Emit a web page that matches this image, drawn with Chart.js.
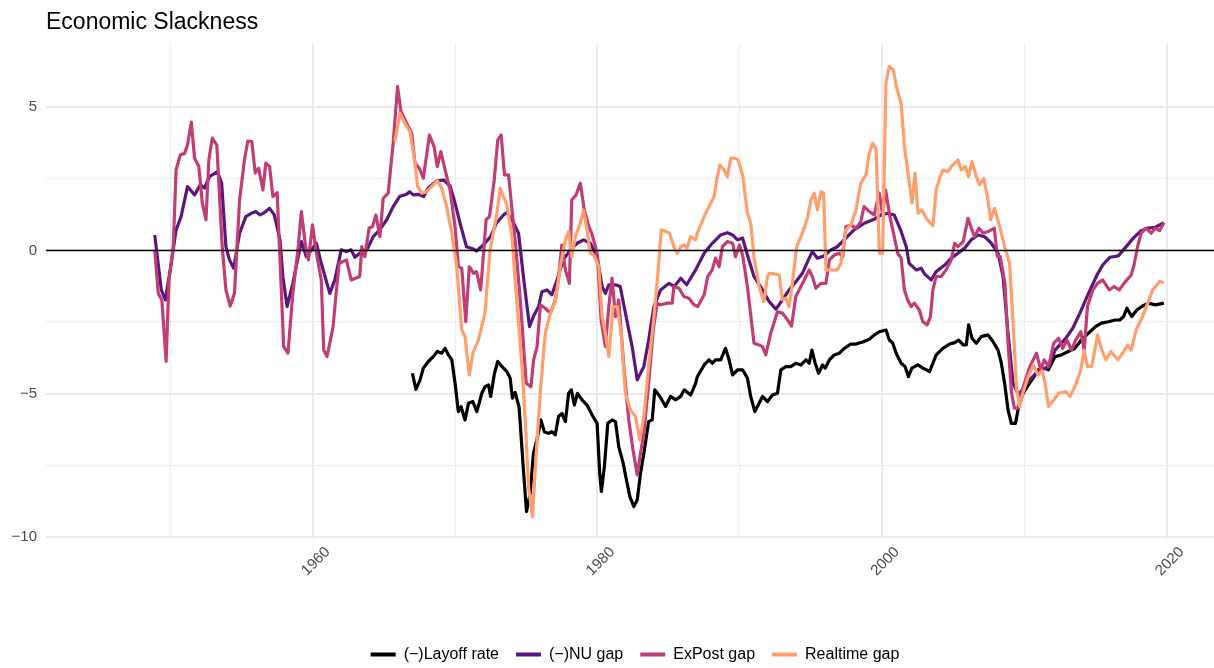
<!DOCTYPE html>
<html>
<head>
<meta charset="utf-8">
<script src="https://cdn.jsdelivr.net/npm/chart.js@4.4.1/dist/chart.umd.min.js"></script>
<style>
  html, body { margin: 0; padding: 0; background: #ffffff; }
  #wrap { width: 1214px; height: 668px; }
</style>
</head>
<body>
<div id="wrap"><canvas id="c" width="1214" height="668"></canvas></div>
<script>
// ---------- data ----------
const seriesNames = ['(\u2212)Layoff rate', '(\u2212)NU gap', 'ExPost gap', 'Realtime gap'];

const layoffYears = [1967.0,1967.25,1967.54,1967.77,1968.12,1968.47,1968.75,1969.06,1969.3,1969.53,1969.77,1970.0,1970.23,1970.42,1970.7,1970.94,1971.25,1971.53,1971.88,1972.1,1972.35,1972.5,1972.77,1973.0,1973.3,1973.64,1973.87,1974.03,1974.22,1974.5,1974.77,1975.02,1975.28,1975.51,1975.8,1976.03,1976.27,1976.57,1976.8,1977.04,1977.27,1977.51,1977.75,1977.98,1978.17,1978.38,1978.6,1978.92,1979.27,1979.63,1979.98,1980.16,1980.28,1980.49,1980.73,1981.03,1981.27,1981.5,1981.81,1982.04,1982.28,1982.56,1982.8,1983.03,1983.3,1983.6,1983.85,1984.03,1984.39,1984.79,1985.14,1985.49,1985.85,1986.1,1986.55,1986.9,1987.02,1987.5,1987.84,1988.07,1988.3,1988.66,1989.0,1989.25,1989.5,1989.84,1990.2,1990.54,1990.77,1991.06,1991.36,1991.6,1991.95,1992.3,1992.65,1992.89,1993.24,1993.59,1993.94,1994.3,1994.65,1994.88,1995.07,1995.3,1995.54,1995.82,1996.01,1996.3,1996.64,1997.0,1997.35,1997.8,1998.17,1998.64,1999.1,1999.46,1999.8,2000.28,2000.51,2000.75,2000.99,2001.34,2001.62,2001.85,2002.09,2002.52,2002.87,2003.34,2003.57,2003.8,2004.27,2004.74,2005.1,2005.38,2005.7,2005.92,2006.08,2006.32,2006.62,2006.97,2007.44,2007.8,2008.15,2008.38,2008.61,2008.85,2009.08,2009.37,2009.6,2009.91,2010.27,2010.62,2010.97,2011.44,2011.68,2012.15,2012.6,2013.08,2013.55,2014.0,2014.5,2015.0,2015.4,2015.9,2016.37,2016.7,2016.97,2017.2,2017.54,2017.9,2018.24,2018.7,2019.2,2019.8];
const layoffVals = [-4.29,-4.85,-4.52,-4.11,-3.88,-3.71,-3.53,-3.59,-3.42,-3.65,-3.82,-4.64,-5.63,-5.46,-5.92,-5.34,-5.28,-5.63,-4.99,-4.76,-4.7,-5.1,-4.29,-3.88,-4.06,-4.23,-4.46,-5.16,-4.96,-5.48,-7.45,-9.12,-8.48,-7.08,-6.5,-5.92,-6.33,-6.39,-6.33,-6.44,-5.8,-5.69,-5.98,-4.99,-4.87,-5.4,-4.99,-5.22,-5.4,-5.75,-6.04,-7.78,-8.42,-7.55,-6.04,-5.92,-5.98,-6.85,-7.43,-8.02,-8.6,-8.95,-8.71,-7.78,-6.97,-5.98,-5.92,-4.87,-5.1,-5.45,-5.1,-5.22,-5.1,-4.87,-5.05,-4.64,-4.41,-4.0,-3.82,-3.94,-3.82,-3.82,-3.42,-3.82,-4.35,-4.17,-4.17,-4.46,-5.1,-5.63,-5.34,-5.1,-5.28,-5.05,-4.99,-4.17,-4.06,-4.06,-3.94,-4.0,-3.82,-3.94,-3.48,-3.94,-4.29,-4.0,-4.11,-3.82,-3.65,-3.59,-3.42,-3.27,-3.27,-3.2,-3.1,-2.95,-2.84,-2.78,-3.13,-3.24,-3.59,-3.94,-4.06,-4.41,-4.11,-4.0,-4.11,-4.23,-3.94,-3.65,-3.42,-3.27,-3.22,-3.13,-3.3,-3.3,-2.6,-3.07,-3.24,-3.01,-2.95,-3.19,-3.48,-3.94,-4.64,-5.57,-6.04,-6.04,-5.45,-4.99,-4.7,-4.45,-4.17,-4.12,-4.17,-3.71,-3.65,-3.53,-3.42,-3.13,-2.89,-2.66,-2.54,-2.49,-2.43,-2.43,-2.31,-2.02,-2.31,-2.08,-1.96,-1.84,-1.9,-1.84];

const nuYears = [1948.9,1949.36,1949.65,1950.06,1950.4,1950.75,1951.2,1951.7,1952.1,1952.4,1952.75,1953.3,1953.6,1953.9,1954.15,1954.45,1954.86,1955.3,1955.7,1956.0,1956.3,1956.6,1956.97,1957.3,1957.7,1957.9,1958.2,1958.6,1959.2,1959.55,1960.26,1960.6,1961.2,1961.55,1962.0,1962.37,1962.7,1962.96,1963.3,1963.8,1964.25,1964.7,1965.2,1965.65,1966.1,1966.6,1966.8,1967.07,1967.4,1967.8,1968.1,1968.7,1969.2,1969.65,1970.0,1970.35,1970.8,1971.3,1971.5,1971.98,1972.5,1972.9,1973.4,1973.64,1974.0,1974.46,1974.8,1975.23,1975.5,1975.87,1976.1,1976.46,1976.8,1977.16,1977.6,1978.1,1978.57,1979.03,1979.5,1979.98,1980.33,1980.56,1980.8,1981.27,1981.6,1981.97,1982.44,1982.8,1983.26,1983.6,1983.97,1984.44,1985.03,1985.4,1985.86,1986.27,1986.9,1987.5,1988.07,1988.66,1989.13,1989.5,1989.84,1990.2,1990.54,1991.0,1991.6,1992.07,1992.54,1993.0,1993.47,1993.94,1994.4,1994.88,1995.1,1995.46,1995.93,1996.4,1996.86,1997.33,1998.03,1998.75,1999.45,1999.93,2000.4,2000.85,2001.3,2001.7,2001.9,2002.4,2002.75,2002.98,2003.45,2003.8,2004.4,2004.86,2005.33,2005.8,2006.27,2006.74,2007.2,2007.68,2008.15,2008.5,2008.85,2009.2,2009.6,2010.0,2010.5,2011.0,2011.7,2012.15,2012.9,2013.4,2013.9,2014.5,2015.1,2015.5,2016.0,2016.6,2017.06,2017.65,2018.2,2018.7,2019.2,2019.8];
const nuVals = [0.54,-1.38,-1.73,-0.44,0.72,1.18,2.23,1.94,2.29,2.18,2.58,2.75,2.35,0.13,-0.33,-0.62,0.6,1.18,1.3,1.36,1.24,1.32,1.47,1.24,0.37,-0.91,-1.96,-1.15,0.31,-0.22,0.25,-0.45,-1.5,-1.03,0.02,-0.04,0.02,-0.24,-0.1,0.02,0.48,0.72,1.07,1.53,1.88,1.96,2.05,1.94,1.96,1.88,2.17,2.43,2.46,2.25,1.65,0.95,0.13,0.05,-0.02,0.19,0.48,0.95,1.24,1.32,1.07,0.6,-0.91,-2.66,-2.31,-1.96,-1.44,-1.38,-1.55,-1.03,-0.33,0.02,0.25,0.37,0.25,-0.22,-1.26,-1.5,-1.2,-1.2,-1.26,-2.19,-3.36,-4.52,-4.06,-3.13,-1.96,-1.38,-1.15,-1.26,-0.97,-1.2,-0.68,-0.1,0.25,0.54,0.62,0.54,0.37,0.43,-0.16,-0.91,-1.38,-1.79,-2.05,-1.73,-1.38,-1.09,-0.8,-0.27,-0.04,-0.27,-0.19,0.02,0.13,0.37,0.72,0.95,1.09,1.24,1.3,1.24,0.72,0.13,-0.45,-0.68,-0.62,-0.82,-1.03,-0.74,-0.51,-0.27,-0.1,0.08,0.37,0.54,0.48,0.25,-0.1,-0.91,-2.89,-4.64,-5.05,-4.76,-4.45,-4.2,-4.06,-3.48,-3.07,-2.72,-2.19,-1.5,-0.86,-0.51,-0.24,-0.19,0.08,0.43,0.69,0.78,0.81,0.97];

const expostYears = [1948.9,1949.15,1949.4,1949.7,1949.9,1950.2,1950.4,1950.7,1951.0,1951.2,1951.47,1951.7,1952.0,1952.24,1952.5,1952.7,1952.94,1953.26,1953.64,1953.9,1954.2,1954.5,1954.86,1955.2,1955.44,1955.72,1955.96,1956.2,1956.5,1956.7,1956.97,1957.2,1957.5,1957.7,1957.96,1958.26,1958.6,1958.96,1959.2,1959.5,1959.7,1959.98,1960.26,1960.6,1960.77,1961.0,1961.2,1961.43,1961.6,1961.85,1962.13,1962.37,1962.7,1963.3,1963.45,1963.66,1963.96,1964.2,1964.44,1964.72,1964.95,1965.3,1965.65,1965.96,1966.2,1966.48,1966.95,1967.18,1967.49,1967.77,1968.2,1968.52,1968.75,1969.0,1969.3,1969.65,1970.0,1970.23,1970.47,1970.75,1971.0,1971.3,1971.5,1971.8,1972.18,1972.42,1972.75,1973.0,1973.24,1973.47,1973.76,1974.0,1974.22,1974.58,1975.0,1975.33,1975.52,1975.76,1976.0,1976.34,1976.7,1977.04,1977.28,1977.5,1977.75,1978.03,1978.2,1978.5,1978.8,1979.08,1979.4,1979.6,1979.86,1980.0,1980.26,1980.56,1980.8,1981.03,1981.27,1981.5,1981.86,1982.2,1982.5,1982.8,1983.03,1983.26,1983.6,1983.92,1984.2,1984.44,1984.9,1985.26,1985.37,1985.73,1986.08,1986.43,1986.78,1987.05,1987.5,1987.75,1988.07,1988.3,1988.55,1988.78,1989.13,1989.5,1989.7,1989.98,1990.2,1990.54,1991.0,1991.36,1991.6,1991.83,1992.18,1992.65,1993.0,1993.36,1993.64,1993.94,1994.3,1994.65,1994.88,1995.1,1995.35,1995.7,1996.06,1996.3,1996.65,1997.0,1997.23,1997.46,1997.8,1998.17,1998.5,1998.73,1999.1,1999.45,1999.8,2000.03,2000.25,2000.55,2000.85,2001.1,2001.34,2001.57,2001.8,2002.04,2002.27,2002.62,2002.86,2003.17,2003.4,2003.57,2003.8,2004.15,2004.5,2004.86,2005.1,2005.33,2005.7,2006.04,2006.27,2006.5,2006.8,2007.1,2007.46,2007.88,2008.1,2008.3,2008.63,2008.85,2009.1,2009.3,2009.6,2009.92,2010.38,2010.85,2011.15,2011.39,2011.7,2012.06,2012.4,2012.7,2013.0,2013.3,2013.6,2013.96,2014.2,2014.43,2014.8,2015.14,2015.5,2015.96,2016.3,2016.66,2017.0,2017.5,2017.7,2017.95,2018.2,2018.54,2018.9,2019.2,2019.5,2019.8];
const expostVals = [0.0,-1.5,-1.73,-3.88,-1.03,0.13,2.81,3.34,3.39,3.68,4.48,3.22,2.93,1.65,1.07,3.16,3.92,3.68,0.13,-1.38,-1.94,-1.5,1.76,3.16,3.82,3.8,2.7,2.87,2.11,3.05,2.93,1.88,2.02,-0.33,-3.36,-3.59,-1.5,0.02,1.36,0.13,-0.33,0.89,-0.1,-1.03,-3.48,-3.71,-3.24,-2.66,-1.73,-0.45,-0.39,-0.33,-1.03,-0.91,0.13,-0.22,0.78,0.83,1.24,0.48,1.82,2.0,3.74,5.72,4.85,4.56,4.09,3.05,2.87,2.52,4.03,3.63,2.93,3.45,2.81,2.11,0.83,-0.57,-0.62,-2.49,-0.57,-0.8,-0.74,-1.38,1.07,1.18,2.46,3.86,4.03,2.64,2.64,1.41,0.37,-1.73,-4.64,-4.76,-3.82,-3.36,-1.9,-2.02,-2.19,-1.73,-0.91,0.19,-0.68,-1.15,1.76,1.94,2.35,1.41,0.83,0.6,0.13,-0.16,-2.43,-3.36,-1.96,-0.97,-2.31,-1.73,-4.06,-5.92,-6.97,-7.84,-7.08,-6.39,-4.64,-2.78,-1.84,-1.9,-1.84,-1.84,-1.26,-1.32,-1.61,-1.67,-1.9,-1.96,-1.55,-0.91,-0.68,-0.27,-0.57,0.13,0.31,0.25,-0.22,0.19,-0.16,-1.26,-3.24,-3.3,-3.36,-3.65,-2.89,-2.14,-2.19,-2.43,-2.64,-1.61,-1.26,-0.91,-0.68,-0.91,-1.32,-1.15,-1.15,-0.33,-0.16,-0.1,-0.22,0.83,0.89,0.78,1.0,1.53,1.36,1.24,2.0,1.3,2.11,1.18,0.48,-0.1,-0.27,-1.38,-1.73,-1.96,-1.84,-2.08,-2.49,-2.6,-2.31,-1.38,-0.91,-0.91,-0.68,-0.33,0.25,0.13,0.31,1.12,0.78,0.48,0.78,0.6,0.66,0.78,-0.22,-0.22,-1.15,-3.24,-4.99,-5.51,-5.51,-4.76,-4.06,-3.59,-4.17,-3.82,-4.06,-3.24,-3.07,-3.42,-3.13,-3.48,-3.13,-2.84,-3.48,-1.96,-1.38,-1.15,-1.03,-1.38,-1.26,-1.38,-1.15,-0.86,-0.51,0.13,0.6,0.78,0.6,0.78,0.69,0.97];

const realtimeYears = [1965.77,1966.13,1966.48,1966.83,1967.18,1967.37,1967.65,1968.0,1968.47,1968.75,1969.06,1969.41,1969.77,1970.12,1970.47,1970.7,1971.0,1971.25,1971.64,1972.1,1972.46,1972.9,1973.17,1973.4,1973.64,1974.0,1974.22,1974.7,1974.93,1975.17,1975.44,1975.7,1976.0,1976.34,1976.7,1977.04,1977.39,1977.75,1977.98,1978.2,1978.45,1978.8,1979.03,1979.27,1979.5,1979.74,1980.1,1980.33,1980.56,1980.8,1981.1,1981.4,1981.67,1981.97,1982.32,1982.67,1982.98,1983.26,1983.6,1983.97,1984.25,1984.49,1984.8,1985.07,1985.37,1985.61,1985.85,1986.08,1986.3,1986.55,1986.9,1987.02,1987.5,1987.84,1988.2,1988.38,1988.6,1988.9,1989.13,1989.37,1989.67,1989.88,1990.2,1990.54,1990.77,1991.0,1991.36,1991.7,1991.95,1992.07,1992.42,1992.77,1993.0,1993.24,1993.47,1993.7,1994.0,1994.4,1994.75,1995.0,1995.23,1995.46,1995.7,1995.89,1996.06,1996.4,1996.86,1997.1,1997.46,1997.8,1998.17,1998.5,1998.87,1999.1,1999.34,1999.58,1999.81,2000.04,2000.27,2000.5,2000.8,2001.0,2001.34,2001.57,2001.85,2002.1,2002.32,2002.52,2002.8,2003.1,2003.57,2003.8,2004.04,2004.27,2004.63,2004.86,2005.33,2005.56,2005.85,2006.08,2006.32,2006.62,2006.85,2007.14,2007.4,2007.63,2007.91,2008.26,2008.61,2008.96,2009.2,2009.44,2009.67,2009.91,2010.27,2010.62,2010.97,2011.25,2011.45,2011.7,2012.06,2012.4,2012.9,2013.2,2013.6,2013.96,2014.2,2014.43,2014.74,2015.14,2015.44,2015.73,2016.08,2016.56,2016.9,2017.25,2017.5,2017.85,2018.3,2018.66,2019.01,2019.5,2019.8];
const realtimeVals = [3.8,4.79,4.44,4.15,3.05,2.23,2.0,2.05,2.29,2.44,2.17,1.53,0.6,-0.57,-2.78,-3.01,-4.35,-3.59,-3.13,-2.19,0.02,1.18,2.17,1.88,1.6,0.48,-1.03,-4.06,-5.92,-8.3,-9.3,-7.08,-4.87,-2.89,-2.19,-1.79,-0.57,0.37,0.66,-0.22,0.48,0.95,1.41,0.72,-0.1,-0.16,-0.57,-2.31,-2.89,-3.71,-1.96,-1.96,-2.89,-4.99,-5.57,-5.8,-6.62,-5.8,-4.06,-2.31,-0.8,0.72,0.66,0.6,0.13,-0.1,0.13,0.19,0.08,0.48,0.37,0.6,1.18,1.53,1.88,2.46,2.99,2.81,2.58,3.22,3.22,3.16,2.64,1.3,0.95,-0.22,-1.26,-1.79,-0.91,-0.8,-0.82,-0.86,-1.73,-1.67,-1.96,-1.15,0.13,0.6,1.12,1.76,2.0,1.41,2.05,2.0,-0.68,-0.68,-0.68,-0.45,0.72,0.89,1.41,2.35,2.65,3.39,3.74,3.54,-0.1,-0.1,5.84,6.42,6.3,5.72,5.14,3.63,2.58,1.65,2.7,1.3,1.41,1.12,0.86,2.11,2.52,2.81,2.75,2.93,3.16,2.81,2.93,2.58,3.1,2.58,2.29,2.52,1.88,1.07,1.47,0.83,0.13,-0.45,-2.5,-4.8,-5.45,-4.95,-4.4,-4.0,-4.35,-4.2,-4.64,-5.45,-5.22,-4.99,-4.93,-5.1,-4.7,-4.17,-3.48,-4.06,-4.04,-2.95,-3.48,-3.82,-3.53,-3.82,-3.59,-3.3,-3.48,-2.78,-2.31,-1.84,-1.38,-1.09,-1.12];

const xTickValues = [1950, 1960, 1970, 1980, 1990, 2000, 2010, 2020];
const xTickLabels = ['', '1960', '', '1980', '', '2000', '', '2020'];
const yTickValues = [-10, -7.5, -5, -2.5, 0, 2.5, 5];
const yTickLabels = ['\u221210', '', '\u22125', '', '0', '', '5'];

const seriesColors = ['#000000', '#5A167E', '#C13D75', '#FE9F6D'];

// ---------- chart ----------
const FONT = "'Liberation Sans', Arial, Helvetica, sans-serif";
const X_MIN = 1941.26, X_MAX = 2023.32;
const Y_MIN = -10.09, Y_MAX = 7.21;
const LEGEND_SHIFT_Y = 4.5;
const LEGEND_SHIFT_X = 28;

const toPoints = (xs, ys) => xs.map((x, i) => ({ x: x, y: ys[i] }));

const seriesData = [
  toPoints(layoffYears, layoffVals),
  toPoints(nuYears, nuVals),
  toPoints(expostYears, expostVals),
  toPoints(realtimeYears, realtimeVals)
];

const datasets = seriesNames.map((name, i) => ({
  label: name,
  data: seriesData[i],
  borderColor: seriesColors[i],
  backgroundColor: seriesColors[i],
  borderWidth: 3.2,
  order: 4 - i
}));
datasets.push({
  label: '__zero',
  data: [{ x: X_MIN, y: 0 }, { x: X_MAX, y: 0 }],
  borderColor: '#000000',
  backgroundColor: '#000000',
  borderWidth: 1.5,
  order: 0
});

const legendShift = {
  id: 'legendShift',
  afterLayout(chart) {
    const lg = chart.legend;
    if (lg) {
      lg.top += LEGEND_SHIFT_Y;
      lg.bottom += LEGEND_SHIFT_Y;
      lg.left += LEGEND_SHIFT_X;
      lg.right += LEGEND_SHIFT_X;
    }
  }
};

new Chart(document.getElementById('c'), {
  type: 'line',
  data: { datasets: datasets },
  options: {
    responsive: false,
    animation: false,
    devicePixelRatio: 1,
    layout: { padding: { left: 0, right: 0, top: 0, bottom: 0 } },
    elements: {
      point: { radius: 0, hoverRadius: 0 },
      line: { tension: 0, borderJoinStyle: 'round', borderCapStyle: 'butt', fill: false }
    },
    scales: {
      x: {
        type: 'linear',
        min: X_MIN,
        max: X_MAX,
        afterBuildTicks: (s) => { s.ticks = xTickValues.map(v => ({ value: v })); },
        afterFit: (s) => { s.height = 85.7; },
        border: { display: false },
        grid: {
          color: '#EBEBEB',
          lineWidth: (c) => (c.tick && xTickLabels[xTickValues.indexOf(c.tick.value)] !== '' ? 2 : 1),
          drawTicks: false
        },
        ticks: {
          autoSkip: false,
          minRotation: 45,
          maxRotation: 45,
          labelOffset: 15,
          padding: 4,
          color: '#4D4D4D',
          font: { family: FONT, size: 15 },
          callback: (v) => { const k = xTickValues.indexOf(v); return k >= 0 ? xTickLabels[k] : ''; }
        }
      },
      y: {
        type: 'linear',
        min: Y_MIN,
        max: Y_MAX,
        afterBuildTicks: (s) => { s.ticks = yTickValues.map(v => ({ value: v })); },
        afterFit: (s) => { s.width = 46; },
        border: { display: false },
        grid: {
          color: '#EBEBEB',
          lineWidth: (c) => (c.tick && yTickLabels[yTickValues.indexOf(c.tick.value)] !== '' ? 2 : 1),
          drawTicks: false
        },
        ticks: {
          autoSkip: false,
          padding: 9,
          color: '#4D4D4D',
          font: { family: FONT, size: 15 },
          callback: (v) => { const k = yTickValues.indexOf(v); return k >= 0 ? yTickLabels[k] : ''; }
        }
      }
    },
    plugins: {
      title: {
        display: true,
        text: 'Economic Slackness',
        align: 'start',
        fullSize: false,
        color: '#000000',
        font: { family: FONT, size: 23, weight: 'normal' },
        padding: { top: 8.4, bottom: 8.0 }
      },
      legend: {
        display: true,
        position: 'bottom',
        align: 'center',
        labels: {
          boxWidth: 25,
          boxHeight: 4,
          padding: 17,
          color: '#000000',
          font: { family: FONT, size: 16 },
          sort: (a, b) => a.datasetIndex - b.datasetIndex,
          generateLabels: (chart) => Chart.defaults.plugins.legend.labels.generateLabels(chart)
            .filter(l => l.text !== '__zero')
            .map(l => Object.assign({}, l, { lineWidth: 0, fillStyle: l.strokeStyle }))
        }
      },
      tooltip: { enabled: false }
    }
  },
  plugins: [legendShift]
});
</script>
</body>
</html>
